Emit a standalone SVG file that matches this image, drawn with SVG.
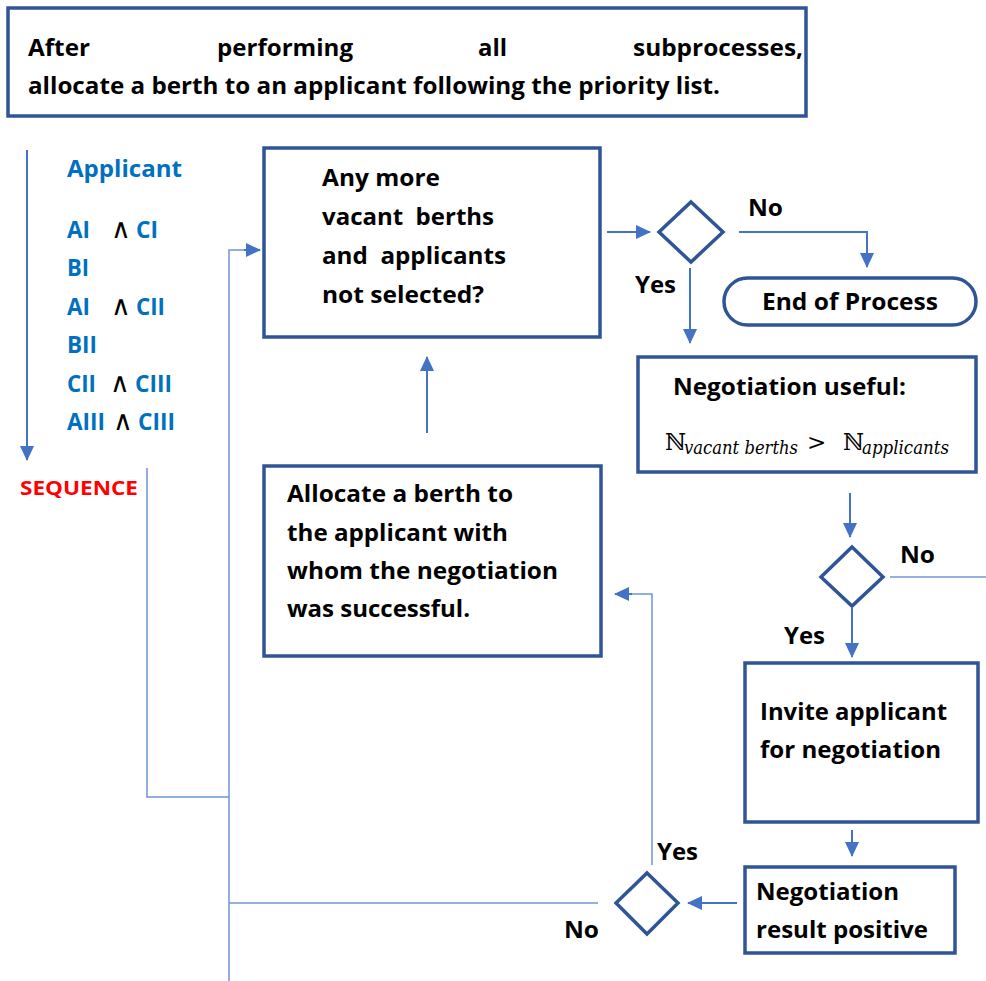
<svg xmlns="http://www.w3.org/2000/svg" width="986" height="981" viewBox="0 0 986 981">
<style>
.box{fill:#fff;stroke:#2F5597;stroke-width:3.5}
.dia{fill:#fff;stroke:#2F5597;stroke-width:3.5}
.t{font-family:"Open Sans","Noto Sans",Lato,sans-serif;font-weight:bold;font-size:23.5px;fill:#000;white-space:pre}
.b{fill:#0070C0}
.red{fill:#FF0000;font-size:20px}
.op{font-family:"DejaVu Sans",sans-serif;font-size:27px;fill:#000}
.m{font-family:"DejaVu Serif","Liberation Serif",serif;font-size:23px;fill:#000}
.mi{font-family:"DejaVu Serif","Liberation Serif",serif;font-style:italic;font-size:18px;fill:#000}
.c{fill:none;stroke:#4472C4;stroke-width:2}
.thin{fill:none;stroke:#7095D6;stroke-width:1.5}
</style>
<defs>
<marker id="ah" markerUnits="userSpaceOnUse" markerWidth="16" markerHeight="16" viewBox="0 0 16 16" refX="14" refY="8" orient="auto">
<path d="M0,1 L15,8 L0,15 Z" fill="#4472C4"/>
</marker>
</defs>
<rect width="986" height="981" fill="#fff"/>

<g id="top-note">
<rect class="box" x="8" y="8" width="798" height="108"/>
<text class="t" x="28" y="56" textLength="62" lengthAdjust="spacingAndGlyphs">After</text>
<text class="t" x="217" y="56" textLength="136" lengthAdjust="spacingAndGlyphs">performing</text>
<text class="t" x="478" y="56" textLength="29" lengthAdjust="spacingAndGlyphs">all</text>
<text class="t" x="633" y="56" textLength="170" lengthAdjust="spacingAndGlyphs">subprocesses,</text>
<text class="t" x="28" y="94" textLength="692" lengthAdjust="spacingAndGlyphs">allocate a berth to an applicant following the priority list.</text>
</g>

<g id="applicant-list">
<text class="t b" x="67" y="177" textLength="115" lengthAdjust="spacingAndGlyphs">Applicant</text>
<text class="t b" x="67" y="238" textLength="23" lengthAdjust="spacingAndGlyphs">AI</text><text class="op" x="111" y="238">∧</text><text class="t b" x="136" y="238" textLength="22" lengthAdjust="spacingAndGlyphs">CI</text>
<text class="t b" x="67" y="276" textLength="22" lengthAdjust="spacingAndGlyphs">BI</text>
<text class="t b" x="67" y="315" textLength="23" lengthAdjust="spacingAndGlyphs">AI</text><text class="op" x="111" y="315">∧</text><text class="t b" x="136" y="315" textLength="29" lengthAdjust="spacingAndGlyphs">CII</text>
<text class="t b" x="67" y="353" textLength="30" lengthAdjust="spacingAndGlyphs">BII</text>
<text class="t b" x="67" y="392" textLength="29" lengthAdjust="spacingAndGlyphs">CII</text><text class="op" x="110" y="392">∧</text><text class="t b" x="135" y="392" textLength="37" lengthAdjust="spacingAndGlyphs">CIII</text>
<text class="t b" x="67" y="430" textLength="38" lengthAdjust="spacingAndGlyphs">AIII</text><text class="op" x="113" y="430">∧</text><text class="t b" x="138" y="430" textLength="37" lengthAdjust="spacingAndGlyphs">CIII</text>
<text class="t red" x="20" y="495" textLength="118" lengthAdjust="spacingAndGlyphs">SEQUENCE</text>
</g>

<g id="check-more">
<rect class="box" x="264" y="148" width="336" height="189"/>
<text class="t" x="322" y="186" textLength="118" lengthAdjust="spacingAndGlyphs">Any more</text>
<text class="t" x="322" y="225" textLength="172" lengthAdjust="spacingAndGlyphs">vacant  berths</text>
<text class="t" x="322" y="264" textLength="184" lengthAdjust="spacingAndGlyphs">and  applicants</text>
<text class="t" x="322" y="303" textLength="162" lengthAdjust="spacingAndGlyphs">not selected?</text>
</g>

<g id="decision-1">
<polygon class="dia" points="691,202 723,232 691,262 659,232"/>
</g>

<g id="end-process">
<rect class="box" x="724" y="278" width="252" height="47" rx="23.5" ry="23.5"/>
<text class="t" x="762" y="310" textLength="176" lengthAdjust="spacingAndGlyphs">End of Process</text>
</g>

<g id="negotiation-useful">
<rect class="box" x="638" y="357" width="338" height="115"/>
<text class="t" x="673" y="395" textLength="233" lengthAdjust="spacingAndGlyphs">Negotiation useful:</text>
<text class="m" x="665" y="450">ℕ</text>
<text class="mi" x="684" y="454" textLength="114" lengthAdjust="spacingAndGlyphs">vacant berths</text>
<text class="m" x="807" y="450">&gt;</text>
<text class="m" x="843" y="450">ℕ</text>
<text class="mi" x="862" y="454" textLength="87" lengthAdjust="spacingAndGlyphs">applicants</text>
</g>

<g id="decision-2">
<polygon class="dia" points="852,547 883,577 852,606 821,577"/>
</g>

<g id="invite">
<rect class="box" x="745" y="663" width="233" height="159"/>
<text class="t" x="760" y="720" textLength="187" lengthAdjust="spacingAndGlyphs">Invite applicant</text>
<text class="t" x="760" y="758" textLength="181" lengthAdjust="spacingAndGlyphs">for negotiation</text>
</g>

<g id="negotiation-result">
<rect class="box" x="745" y="867" width="210" height="86"/>
<text class="t" x="756" y="900" textLength="143" lengthAdjust="spacingAndGlyphs">Negotiation</text>
<text class="t" x="756" y="938" textLength="172" lengthAdjust="spacingAndGlyphs">result positive</text>
</g>

<g id="decision-3">
<polygon class="dia" points="647,873 678,903 647,934 616,903"/>
</g>

<g id="allocate">
<rect class="box" x="264" y="466" width="337" height="190"/>
<text class="t" x="287" y="502" textLength="226" lengthAdjust="spacingAndGlyphs">Allocate a berth to</text>
<text class="t" x="287" y="541" textLength="221" lengthAdjust="spacingAndGlyphs">the applicant with</text>
<text class="t" x="287" y="579" textLength="271" lengthAdjust="spacingAndGlyphs">whom the negotiation</text>
<text class="t" x="287" y="617" textLength="183" lengthAdjust="spacingAndGlyphs">was successful.</text>
</g>

<g id="connectors">
<line class="c" x1="27" y1="150" x2="27" y2="460" marker-end="url(#ah)"/>
<polyline class="thin" points="147,468 147,797 229,797"/>
<polyline class="thin" points="229,981 229,250 246,250"/>
<line class="c" x1="244" y1="250" x2="260" y2="250" marker-end="url(#ah)"/>
<line class="thin" x1="229" y1="903" x2="598" y2="903"/>
<line class="c" x1="607" y1="232" x2="650" y2="232" marker-end="url(#ah)"/>
<polyline class="c" points="739,232 867,232 867,267" marker-end="url(#ah)"/>
<line class="c" x1="690" y1="268" x2="690" y2="343" marker-end="url(#ah)"/>
<line class="c" x1="850" y1="493" x2="850" y2="537" marker-end="url(#ah)"/>
<line class="thin" x1="890" y1="577" x2="986" y2="577"/>
<line class="c" x1="852" y1="607" x2="852" y2="657" marker-end="url(#ah)"/>
<line class="c" x1="852" y1="830" x2="852" y2="856" marker-end="url(#ah)"/>
<line class="c" x1="737" y1="903" x2="688" y2="903" marker-end="url(#ah)"/>
<polyline class="thin" points="652,865 652,594 630,594"/>
<line class="c" x1="632" y1="594" x2="615" y2="594" marker-end="url(#ah)"/>
<line class="c" x1="427" y1="433" x2="427" y2="357" marker-end="url(#ah)"/>
</g>

<g id="labels">
<text class="t" x="748" y="216" textLength="35" lengthAdjust="spacingAndGlyphs">No</text>
<text class="t" x="635" y="293" textLength="41" lengthAdjust="spacingAndGlyphs">Yes</text>
<text class="t" x="900" y="563" textLength="35" lengthAdjust="spacingAndGlyphs">No</text>
<text class="t" x="784" y="644" textLength="41" lengthAdjust="spacingAndGlyphs">Yes</text>
<text class="t" x="657" y="860" textLength="41" lengthAdjust="spacingAndGlyphs">Yes</text>
<text class="t" x="564" y="938" textLength="35" lengthAdjust="spacingAndGlyphs">No</text>
</g>
</svg>
